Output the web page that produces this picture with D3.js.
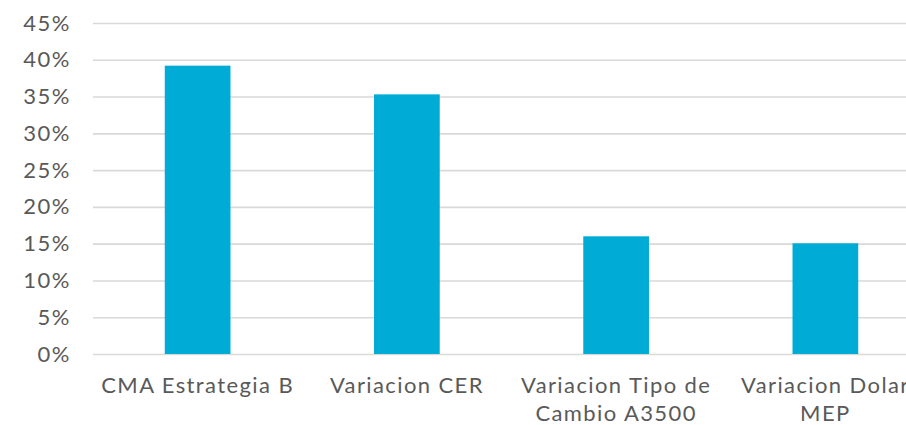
<!DOCTYPE html>
<html>
<head>
<meta charset="utf-8">
<script src="https://cdn.jsdelivr.net/npm/d3@7"></script>
<style>
  html, body { margin: 0; padding: 0; background: #fff; overflow: hidden; }
  #chart svg { display: block; }
  .tick text, .cat-label { font-family: Lato, "Noto Sans", sans-serif; fill: #595959; }
</style>
</head>
<body>
<div id="chart"></div>
<script>
// values
const categories = ['CMA Estrategia B', 'Variacion CER', 'Variacion Tipo de Cambio A3500', 'Variacion Dolar MEP'];
const values = [0.392, 0.353, 0.160, 0.1505];
const yTicks = [0, 0.05, 0.10, 0.15, 0.20, 0.25, 0.30, 0.35, 0.40, 0.45];

// the original chart is wider than the window, so its right side gets clipped
const width = 940;
const height = 425;
const margin = { top: 23, right: 10, bottom: 71, left: 93 };
const fontSize = 22;

const svg = d3.select('#chart')
    .append('svg')
    .attr('width', width)
    .attr('height', height);

const x = d3.scaleBand()
    .domain(categories)
    .range([margin.left, 930])
    .paddingInner(0.686)
    .paddingOuter(0.343);

const y = d3.scaleLinear()
    .domain([0, 0.45])
    .range([height - margin.bottom, margin.top]);

// gridlines + tick labels
const yAxis = svg.append('g')
    .attr('transform', `translate(${margin.left}, 0)`)
    .call(d3.axisLeft(y)
        .tickValues(yTicks)
        .tickFormat(d3.format('.0%'))
        .tickSize(-(width - margin.left))
        .tickPadding(22));

yAxis.select('.domain').remove();
yAxis.selectAll('.tick line')
    .attr('stroke', '#d9d9d9')
    .attr('stroke-width', 1.6);
yAxis.selectAll('.tick text')
    .style('font-size', fontSize + 'px')
    .style('letter-spacing', '1.5px');

// bars
svg.append('g')
    .selectAll('rect')
    .data(categories)
    .join('rect')
    .attr('x', (d) => x(d))
    .attr('width', x.bandwidth())
    .attr('y', (d, i) => y(values[i]))
    .attr('height', (d, i) => y(0) - y(values[i]))
    .attr('fill', '#00abd5');

// category labels, wrapped like the original
const labels = svg.append('g')
    .selectAll('text')
    .data(categories)
    .join('text')
    .attr('class', 'cat-label')
    .attr('text-anchor', 'middle')
    .attr('x', (d) => x(d) + x.bandwidth() / 2)
    .attr('y', 393)
    .style('font-size', fontSize + 'px')
    .style('letter-spacing', '1.4px');

labels.each(function(d) {
    const text = d3.select(this);
    const words = d.split(' ');
    const maxWidth = 205;
    let line = [];
    let tspan = text.append('tspan').attr('x', text.attr('x')).attr('dy', 0);
    for (const w of words) {
        line.push(w);
        tspan.text(line.join(' '));
        if (tspan.node().getComputedTextLength() > maxWidth && line.length > 1) {
            line.pop();
            tspan.text(line.join(' '));
            line = [w];
            tspan = text.append('tspan')
                .attr('x', text.attr('x'))
                .attr('dy', 28)
                .text(w);
        }
    }
});
</script>
</body>
</html>
